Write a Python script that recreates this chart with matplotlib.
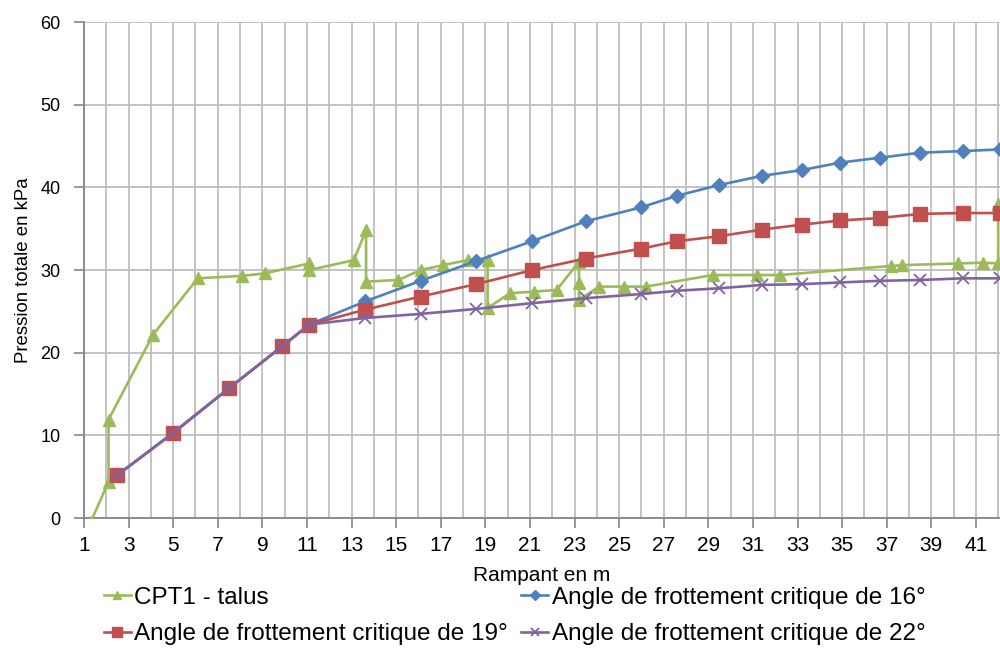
import matplotlib
matplotlib.use("Agg")
import matplotlib.pyplot as plt
from matplotlib.ticker import MultipleLocator, FixedLocator

# CPT1 measured profile along the slope
cpt_x = [1.3, 2.1, 2.1, 4.1, 6.1, 8.1, 9.1, 11.1, 11.1, 13.1, 13.65, 13.65,
         15.1, 16.1, 17.1, 18.2, 19.1, 19.1, 20.1, 21.2, 22.2, 23.2, 23.2, 23.2,
         24.1, 25.2, 26.2, 29.2, 31.2, 32.2, 37.2, 37.7, 40.2, 41.3, 42.0, 42.0]
cpt_y = [-0.5, 4.4, 11.9, 22.2, 29.0, 29.3, 29.6, 30.8, 30.0, 31.2, 34.8, 28.6,
         28.8, 30.0, 30.6, 31.2, 31.2, 25.4, 27.2, 27.4, 27.6, 31.0, 28.4, 26.4,
         28.0, 28.0, 28.0, 29.4, 29.4, 29.4, 30.5, 30.6, 30.8, 30.9, 30.8, 38.0]

# computed pressure for three critical friction angles
rampant = [2.5, 5.0, 7.5, 9.9, 11.1, 13.6, 16.1, 18.6, 21.1, 23.5, 26.0,
           27.6, 29.5, 31.4, 33.2, 34.9, 36.7, 38.5, 40.4, 42.1]
p_16 = [5.2, 10.3, 15.7, 20.8, 23.4, 26.2, 28.7, 31.1, 33.5, 35.9, 37.6,
        39.0, 40.3, 41.4, 42.1, 43.0, 43.6, 44.2, 44.4, 44.6]
p_19 = [5.2, 10.3, 15.7, 20.8, 23.4, 25.2, 26.8, 28.3, 30.0, 31.4, 32.6,
        33.5, 34.1, 34.9, 35.5, 36.0, 36.3, 36.8, 36.9, 36.9]
p_22 = [5.2, 10.3, 15.7, 20.8, 23.4, 24.2, 24.7, 25.3, 26.0, 26.6, 27.1,
        27.5, 27.8, 28.2, 28.3, 28.5, 28.7, 28.8, 29.0, 29.0]

labels = ["CPT1 - talus",
          "Angle de frottement critique de 16°",
          "Angle de frottement critique de 19°",
          "Angle de frottement critique de 22°"]

font = ["Liberation Sans", "DejaVu Sans"]

fig = plt.figure(figsize=(10, 6.71), dpi=100)
ax = fig.add_axes([0.084, 0.228, 0.916, 0.739])

lw = 1.9
h_cpt, = ax.plot(cpt_x, cpt_y, color="#9BBB59", lw=lw, marker="^", ms=9, zorder=3)
h16, = ax.plot(rampant, p_16, color="#4F81BD", lw=lw, marker="D", ms=7.5, zorder=4)
h19, = ax.plot(rampant, p_19, color="#C0504D", lw=lw, marker="s", ms=9.5, zorder=5)
h22, = ax.plot(rampant, p_22, color="#8064A2", lw=lw, marker="x", ms=9, mew=1.3, zorder=6)

ax.set_xlim(1, 42.08)
ax.set_ylim(0, 60)
ax.xaxis.set_major_locator(FixedLocator(range(1, 42, 2)))
ax.xaxis.set_minor_locator(MultipleLocator(1))
ax.yaxis.set_major_locator(MultipleLocator(10))

ax.grid(True, which="both", axis="x", color="#BEBEBE", lw=1.3)
ax.grid(True, which="major", axis="y", color="#BEBEBE", lw=1.3)
ax.set_axisbelow(True)

for side in ["top", "right"]:
    ax.spines[side].set_visible(False)
for side in ["left", "bottom"]:
    ax.spines[side].set_color("#868686")
    ax.spines[side].set_linewidth(1.3)

ax.tick_params(axis="both", which="major", direction="out", length=7,
               color="#868686", width=1.2)
ax.tick_params(axis="x", which="minor", length=0)

for t in ax.get_xticklabels():
    t.set_family(font)
    t.set_fontsize(15)
for t in ax.get_yticklabels():
    t.set_family(font)
    t.set_fontsize(13)
ax.tick_params(axis="x", pad=6)
ax.tick_params(axis="y", pad=10)

ax.set_xlabel("Rampant en m", family=font, fontsize=15, labelpad=8)
ax.set_ylabel("Pression totale en kPa", family=font, fontsize=13.4, labelpad=6)

leg = fig.legend([h_cpt, h19, h16, h22], [labels[0], labels[2], labels[1], labels[3]],
                 ncol=2, loc="upper left", bbox_to_anchor=(0.082, 0.158),
                 frameon=False, prop={"family": font, "size": 17.5},
                 handlelength=1.1, handletextpad=0.15, columnspacing=0.55,
                 labelspacing=0.6, markerscale=0.7)

fig.savefig("out.png", dpi=100)
